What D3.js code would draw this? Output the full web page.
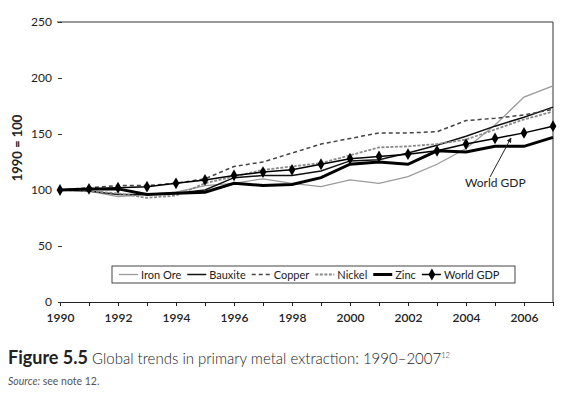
<!DOCTYPE html>
<html>
<head>
<meta charset="utf-8">
<script src="https://cdn.jsdelivr.net/npm/d3@7"></script>
<style>
  body { margin: 0; background: #fff; }
  svg { display: block; font-family: Lato, "Open Sans", sans-serif; }
</style>
</head>
<body>
<script>
// years and series (index 1990 = 100)
const years = d3.range(1990, 2008);
const ironOre  = [100, 99, 94, 96, 98, 104, 106, 110, 106, 103, 109, 106, 112, 123, 137, 158, 183, 193];
const bauxite  = [100, 99, 96, 96, 97, 100, 111, 113, 113, 117, 126, 127, 133, 140, 148, 157, 165, 174];
const copper   = [100, 102, 104, 104, 106, 110, 121, 125, 133, 141, 146, 151, 151, 152, 162, 164, 167, 172];
const nickel   = [100, 99, 97, 93, 95, 106, 112, 118, 121, 124, 131, 138, 139, 141, 145, 154, 163, 170];
const zinc     = [100, 101, 101, 96, 97, 98, 106, 104, 105, 111, 123, 125, 123, 135, 134, 139, 139, 147];
const worldGdp = [100, 101, 102, 103, 106, 109, 113, 116, 118, 123, 128, 130, 132, 135, 141, 146, 151, 157];
const yTicks = [0, 50, 100, 150, 200, 250];
const xLabels = [1990, 1992, 1994, 1996, 1998, 2000, 2002, 2004, 2006];

const series = [
  { name: "Iron Ore", values: ironOre, color: "#9a9a9a", width: 1.3, dash: null },
  { name: "Bauxite", values: bauxite, color: "#111", width: 1.5, dash: null },
  { name: "Copper", values: copper, color: "#444", width: 1.5, dash: "4,3" },
  { name: "Nickel", values: nickel, color: "#8a8a8a", width: 1.8, dash: "3,1.5" },
  { name: "Zinc", values: zinc, color: "#000", width: 3, dash: null },
  { name: "World GDP", values: worldGdp, color: "#000", width: 1.5, dash: null, marker: true }
];

const svg = d3.select("body").append("svg")
  .attr("width", 570)
  .attr("height", 399);

const x = d3.scaleLinear().domain([1990, 2007]).range([60, 553]);
const y = d3.scaleLinear().domain([0, 250]).range([302, 22]);

// frame: top and right
svg.append("line").attr("x1", 57).attr("x2", x(2007)).attr("y1", y(250)).attr("y2", y(250))
  .attr("stroke", "#333").attr("stroke-width", 1);
svg.append("line").attr("x1", x(2007)).attr("x2", x(2007)).attr("y1", y(250)).attr("y2", y(0))
  .attr("stroke", "#333").attr("stroke-width", 1);

// x axis
const xAxis = svg.append("g")
  .attr("transform", `translate(0,${y(0)})`)
  .call(d3.axisBottom(x).tickValues(years).tickSize(4).tickSizeOuter(0)
    .tickFormat(d => xLabels.includes(d) ? d : ""));
xAxis.select(".domain").attr("stroke", "#222");
xAxis.selectAll(".tick line").attr("stroke", "#222");
xAxis.selectAll("text").attr("font-size", 12).attr("font-weight", 600).attr("fill", "#222")
  .attr("font-family", "Lato, sans-serif").attr("dy", "1.05em");

// y axis (dash ticks, no spine)
const yAxis = svg.append("g")
  .attr("transform", `translate(62,0)`)
  .call(d3.axisLeft(y).tickValues(yTicks).tickSize(4).tickPadding(6));
yAxis.select(".domain").remove();
yAxis.selectAll(".tick line").attr("stroke", "#333");
yAxis.selectAll("text").attr("font-size", 12).attr("fill", "#222")
  .attr("font-family", "Lato, sans-serif");

svg.append("text")
  .attr("transform", `translate(22,148) rotate(-90)`)
  .attr("text-anchor", "middle")
  .attr("font-size", 13).attr("font-weight", 700).attr("fill", "#222")
  .text("1990 = 100");

// lines
const line = d3.line().x((d, i) => x(years[i])).y(d => y(d));
series.forEach(s => {
  svg.append("path")
    .datum(s.values)
    .attr("fill", "none")
    .attr("stroke", s.color)
    .attr("stroke-width", s.width)
    .attr("stroke-dasharray", s.dash)
    .attr("d", line);
});

const diamond = d3.symbol().type(d3.symbolDiamond).size(40);
svg.append("g").selectAll("path")
  .data(worldGdp)
  .join("path")
  .attr("transform", (d, i) => `translate(${x(years[i])},${y(d)})`)
  .attr("d", diamond)
  .attr("fill", "#000");

// annotation
svg.append("text").attr("x", 465).attr("y", 187)
  .attr("font-size", 12).attr("fill", "#222").text("World GDP");
svg.append("defs").append("marker")
  .attr("id", "arr").attr("viewBox", "0 0 10 10").attr("refX", 9).attr("refY", 5)
  .attr("markerWidth", 5).attr("markerHeight", 5).attr("orient", "auto")
  .append("path").attr("d", "M0,0L10,5L0,10z").attr("fill", "#222");
svg.append("line")
  .attr("x1", 490).attr("y1", 177).attr("x2", 511).attr("y2", 138)
  .attr("stroke", "#222").attr("stroke-width", 1).attr("marker-end", "url(#arr)");

// legend
const lg = svg.append("g");
const legendY = 274.5;
lg.append("rect").attr("x", 112).attr("y", 266).attr("width", 403).attr("height", 17)
  .attr("fill", "#fff").attr("stroke", "#444").attr("stroke-width", 1);
let lx = 119;
series.forEach(s => {
  lg.append("line").attr("x1", lx).attr("x2", lx + 19).attr("y1", legendY).attr("y2", legendY)
    .attr("stroke", s.color).attr("stroke-width", s.width).attr("stroke-dasharray", s.dash);
  if (s.marker) {
    lg.append("path").attr("transform", `translate(${lx + 10},${legendY})`)
      .attr("d", diamond).attr("fill", "#000");
  }
  const t = lg.append("text").attr("x", lx + 22).attr("y", legendY + 4)
    .attr("font-size", 11).attr("fill", "#222").text(s.name);
  lx += 22 + t.node().getComputedTextLength() + 6;
});

// caption
const cap = svg.append("text").attr("x", 8).attr("y", 364).attr("fill", "#222");
cap.append("tspan").attr("font-size", 18).attr("font-weight", 700).text("Figure 5.5");
cap.append("tspan").attr("font-size", 15).attr("font-weight", 300).text(" Global trends in primary metal extraction: 1990–2007");
cap.append("tspan").attr("font-size", 7.5).attr("dy", -6).attr("font-weight", 300).text("12");

const src = svg.append("text").attr("x", 8).attr("y", 385).attr("font-size", 10.5).attr("fill", "#555");
src.append("tspan").attr("font-style", "italic").text("Source:");
src.append("tspan").text(" see note 12.");
</script>
</body>
</html>
